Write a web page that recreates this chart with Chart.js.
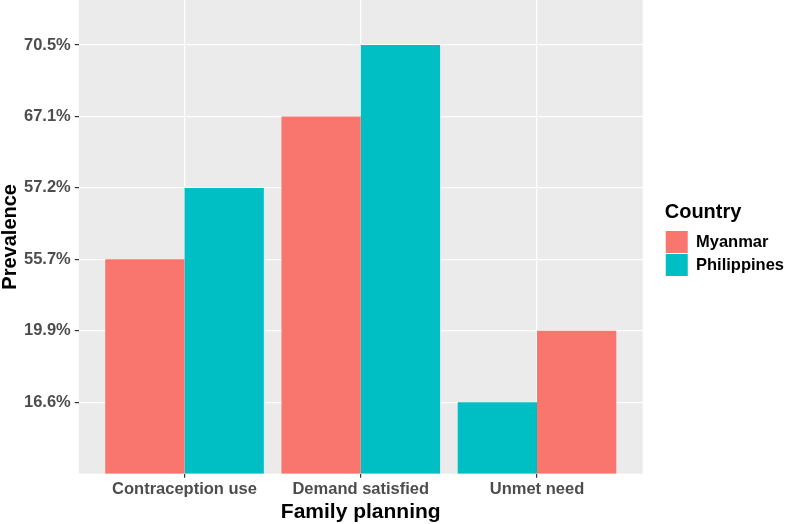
<!DOCTYPE html>
<html>
<head>
<meta charset="utf-8">
<script src="https://cdn.jsdelivr.net/npm/chart.js@4"></script>
<style>
  html, body { margin: 0; padding: 0; background: #fff; }
  #wrap { width: 787px; height: 524px; }
</style>
</head>
<body>
<div id="wrap"><canvas id="chart"></canvas></div>
<script>
const categories = ['Contraception use', 'Demand satisfied', 'Unmet need'];
const countries = ['Myanmar', 'Philippines'];
const myanmar = ['55.7%', '67.1%', '19.9%'];
const philippines = ['57.2%', '70.5%', '16.6%'];
const colors = ['#F8766D', '#00BFC4'];

// y axis is discrete in the original: levels sorted by value
const yLevels = myanmar.concat(philippines).sort((a, b) => parseFloat(a) - parseFloat(b));
const level = (v) => yLevels.indexOf(v) + 1;

// bars are dodged by level inside each category: lower level goes left
const leftData = [], rightData = [], leftColors = [], rightColors = [];
categories.forEach((c, i) => {
  const a = { x: i + 1, y: level(myanmar[i]) };
  const b = { x: i + 1, y: level(philippines[i]) };
  if (a.y <= b.y) {
    leftData.push(a); leftColors.push(colors[0]);
    rightData.push(b); rightColors.push(colors[1]);
  } else {
    leftData.push(b); leftColors.push(colors[1]);
    rightData.push(a); rightColors.push(colors[0]);
  }
});

const panelBg = {
  id: 'panelBg',
  beforeDraw(chart) {
    const { ctx, chartArea: a } = chart;
    ctx.save();
    ctx.fillStyle = '#EBEBEB';
    ctx.fillRect(a.left, a.top, a.right - a.left, a.bottom - a.top);
    ctx.restore();
  }
};

// give the legend a wider box and move its content away from the panel
const legendGap = {
  id: 'legendGap',
  afterInit(chart) {
    const leg = chart.legend;
    const fit = leg.fit.bind(leg);
    leg.fit = () => { fit(); leg.width += 15; };
  },
  afterLayout(chart) {
    const leg = chart.legend;
    leg.left += 22;
    leg.top = 202;
  }
};

const tickFont = { family: 'Liberation Sans', size: 16.5, weight: 'bold' };
const titleFont = { family: 'Liberation Sans', size: 21, weight: 'bold', lineHeight: 1.0 };

new Chart(document.getElementById('chart'), {
  type: 'bar',
  data: {
    datasets: [
      { data: leftData, backgroundColor: leftColors, borderWidth: 0 },
      { data: rightData, backgroundColor: rightColors, borderWidth: 0 }
    ]
  },
  options: {
    responsive: true,
    maintainAspectRatio: false,
    animation: false,
    layout: { padding: { top: 0, right: 0, left: 0, bottom: 1 } },
    datasets: { bar: { categoryPercentage: 0.9, barPercentage: 1 } },
    plugins: {
      tooltip: { enabled: false },
      legend: {
        position: 'right',
        align: 'start',
        onClick: null,
        title: { display: true, text: 'Country', color: '#000', font: { family: 'Liberation Sans', size: 20, weight: 'bold' }, position: 'start', padding: { top: 0, bottom: 4 } },
        labels: {
          boxWidth: 22,
          boxHeight: 22,
          padding: 1,
          color: '#000',
          font: tickFont,
          generateLabels: () => countries.map((name, i) => ({
            text: name, fillStyle: colors[i], strokeStyle: colors[i], lineWidth: 0, hidden: false
          }))
        }
      }
    },
    scales: {
      x: {
        type: 'linear',
        min: 0.4,
        max: 3.6,
        offset: false,
        afterBuildTicks: (s) => { s.ticks = categories.map((c, i) => ({ value: i + 1 })); },
        afterFit: (s) => { s.paddingLeft = 0; s.paddingRight = 0; },
        ticks: { callback: (v) => categories[v - 1], color: '#4D4D4D', font: { family: 'Liberation Sans', size: 16.5, weight: 'bold', lineHeight: 1.05 }, padding: 3, maxRotation: 0, autoSkip: false },
        grid: { offset: false, color: '#FFFFFF', lineWidth: 1.2, tickColor: '#333333', tickLength: 4 },
        border: { display: false },
        title: { display: true, text: 'Family planning', color: '#000', font: titleFont, padding: { top: 1, bottom: 0 } }
      },
      y: {
        type: 'linear',
        min: 0,
        max: 6.63,
        afterBuildTicks: (s) => { s.ticks = yLevels.map((l, i) => ({ value: i + 1 })); },
        afterFit: (s) => { s.paddingTop = 0; s.paddingBottom = 0; },
        ticks: { callback: (v) => yLevels[v - 1], color: '#4D4D4D', font: tickFont, padding: 4 },
        grid: { color: '#FFFFFF', lineWidth: 1.2, tickColor: '#333333', tickLength: 4 },
        border: { display: false },
        title: { display: true, text: 'Prevalence', color: '#000', font: { family: 'Liberation Sans', size: 20, weight: 'bold', lineHeight: 1.0 }, padding: { top: 0, bottom: 0 } }
      }
    }
  },
  plugins: [panelBg, legendGap]
});
</script>
</body>
</html>
